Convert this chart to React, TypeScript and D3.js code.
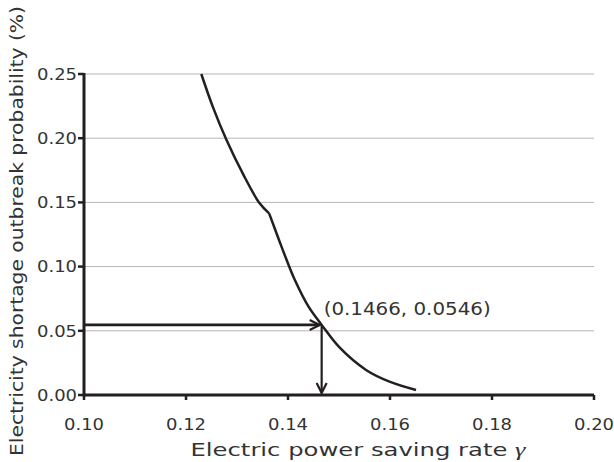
import React from "react";
import * as d3 from "d3";

const upperX = [0.1230, 0.1253, 0.1279, 0.1312, 0.1344, 0.1363];
const upperY = [0.250, 0.224, 0.199, 0.172, 0.1495, 0.1415];
const lowerX = [0.1363, 0.1384, 0.1397, 0.1413, 0.1440, 0.1466, 0.1501, 0.1553, 0.1599, 0.1651];
const lowerY = [0.1415, 0.119, 0.1055, 0.090, 0.069, 0.0546, 0.037, 0.0195, 0.0104, 0.0039];
const xTicks = [0.10, 0.12, 0.14, 0.16, 0.18, 0.20];
const yTicks = [0.00, 0.05, 0.10, 0.15, 0.20, 0.25];
const marker = { x: 0.1466, y: 0.0546 };
const markerLabel = "(0.1466, 0.0546)";
const xTitle = "Electric power saving rate ";
const yTitle = "Electricity shortage outbreak probability (%)";

const W = 614;
const H = 462;
const FONT = "'DejaVu Sans', 'Noto Sans', sans-serif";
const INK = "#231f20";
const TXT = "#333333";

export default function App() {
  const x = d3.scaleLinear().domain([0.1, 0.2]).range([84, 594]);
  const y = d3.scaleLinear().domain([0, 0.25]).range([395, 74]);
  const line = d3
    .line<[number, number]>()
    .x((d) => x(d[0]))
    .y((d) => y(d[1]))
    .curve(d3.curveCatmullRom.alpha(0.5));
  const upper: [number, number][] = upperX.map((v, i) => [v, upperY[i]]);
  const lower: [number, number][] = lowerX.map((v, i) => [v, lowerY[i]]);

  const mx = x(marker.x);
  const my = y(marker.y);
  const x0 = x(0.1);
  const y0 = y(0);

  return (
    <svg width={W} height={H} style={{ position: "absolute", left: 0, top: 0, background: "#fff" }}>
      {yTicks.filter((t) => t > 0).map((t) => (
        <line key={"g" + t} x1={x0} x2={x(0.2)} y1={y(t)} y2={y(t)} stroke="#b5b5b5" strokeWidth={1} />
      ))}
      {yTicks.map((t) => (
        <g key={"y" + t}>
          <line x1={x0 - 6} x2={x0} y1={y(t)} y2={y(t)} stroke={INK} strokeWidth={2.5} />
          <text x={x0 - 7} y={y(t)} dy="0.36em" textAnchor="end" fontFamily={FONT} fontSize={16} textLength={40} lengthAdjust="spacingAndGlyphs" fill={TXT}>
            {t.toFixed(2)}
          </text>
        </g>
      ))}
      {xTicks.map((t) => (
        <g key={"x" + t}>
          <line x1={x(t)} x2={x(t)} y1={y0} y2={y0 + 5} stroke={INK} strokeWidth={2.5} />
          <text x={x(t)} y={430} textAnchor="middle" fontFamily={FONT} fontSize={16} textLength={40} lengthAdjust="spacingAndGlyphs" fill={TXT}>
            {t.toFixed(2)}
          </text>
        </g>
      ))}
      <line x1={x0} x2={x(0.2)} y1={y0} y2={y0} stroke={INK} strokeWidth={3} />
      <line x1={x0} x2={x0} y1={y(0.25) - 1} y2={y0 + 1.5} stroke={INK} strokeWidth={3} />
      <path d={(line(upper) || "") + (line(lower) || "")} fill="none" stroke={INK} strokeWidth={2.5} strokeLinejoin="round" />
      <line x1={x0} x2={mx - 2} y1={my} y2={my} stroke={INK} strokeWidth={2.8} />
      <path d={`M${mx - 12},${my - 5}L${mx - 2},${my}L${mx - 12},${my + 5}`} fill="none" stroke={INK} strokeWidth={2.2} />
      <line x1={mx} x2={mx} y1={my} y2={y0 - 2} stroke={INK} strokeWidth={2.2} />
      <path d={`M${mx - 5},${y0 - 12}L${mx},${y0 - 2}L${mx + 5},${y0 - 12}`} fill="none" stroke={INK} strokeWidth={2.2} />
      <text x={mx + 2} y={315} fontFamily={FONT} fontSize={17.5} textLength={167} lengthAdjust="spacingAndGlyphs" fill={TXT}>
        {markerLabel}
      </text>
      <text x={358} y={456} textAnchor="middle" fontFamily={FONT} fontSize={17.5} textLength={335} lengthAdjust="spacingAndGlyphs" fill={TXT}>
        {xTitle}
        <tspan fontFamily="'Liberation Serif', serif" fontStyle="italic" fontSize={19}>γ</tspan>
      </text>
      <text
        transform={`translate(23, 231) rotate(-90)`}
        textAnchor="middle"
        fontFamily={FONT}
        fontSize={17.5}
        textLength={450}
        lengthAdjust="spacingAndGlyphs"
        fill={TXT}
      >
        {yTitle}
      </text>
    </svg>
  );
}
